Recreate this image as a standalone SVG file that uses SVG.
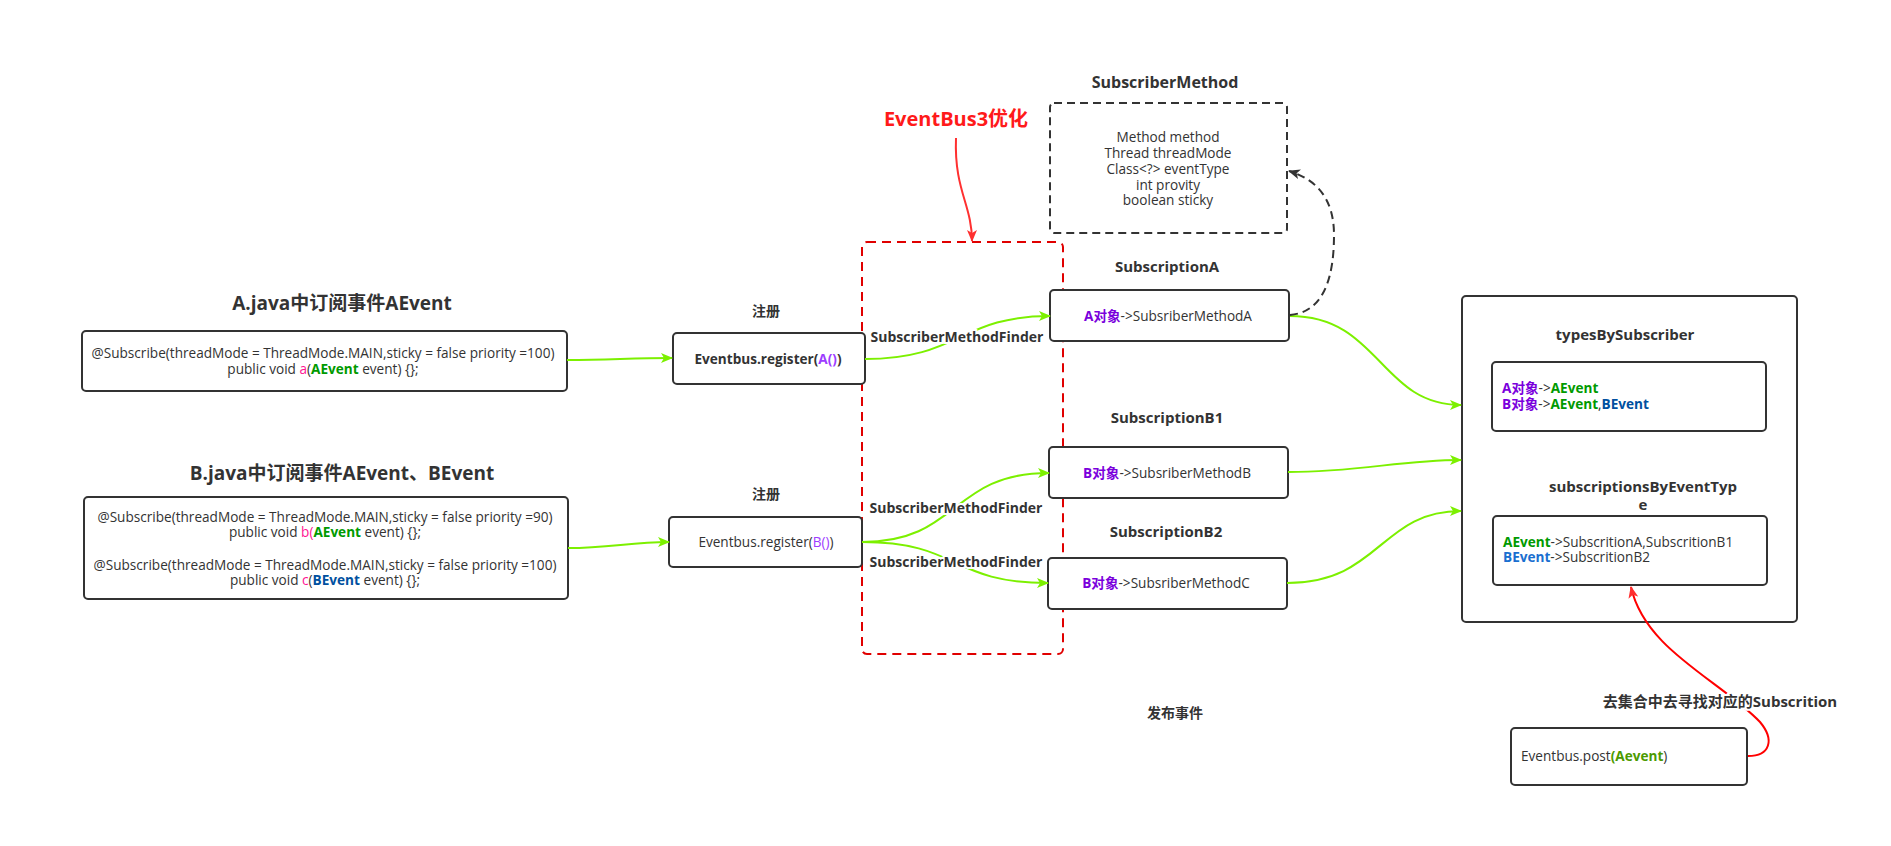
<svg xmlns="http://www.w3.org/2000/svg" width="1891" height="846" viewBox="0 0 1891 846">
<defs>
<style>
text{font-family:"Open Sans","Noto Sans CJK SC",sans-serif;fill:#333;}
.t{font-size:13.6px;}
.b{font-weight:bold;}
.title{font-size:19px;font-weight:bold;}
.h{font-size:15px;font-weight:bold;}
.lbl{font-size:14px;font-weight:bold;}
.halo{paint-order:stroke;stroke:#fff;stroke-width:4px;}
.box{fill:#fff;stroke:#333;stroke-width:2;}
.dbox{fill:#fff;stroke:#333;stroke-width:2;stroke-dasharray:8 5;}
.g{fill:none;stroke:#7cf000;stroke-width:2;}
.pur{fill:#7a00dc;}
.pl{fill:#9d3cff;}
.grn{fill:#009a00;}
.blu{fill:#0050a0;}
.blu2{fill:#1a6fd0;}
.pk{fill:#ff1493;}
.olv{fill:#4b9a00;}
</style>
<marker id="ag" viewBox="0 0 12 10" refX="11" refY="5" markerWidth="12" markerHeight="10" markerUnits="userSpaceOnUse" orient="auto"><path d="M0,0 L12,5 L0,10 L3,5 Z" fill="#7cf000"/></marker>
<marker id="ar" viewBox="0 0 12 10" refX="11" refY="5" markerWidth="12" markerHeight="10" markerUnits="userSpaceOnUse" orient="auto"><path d="M0,0 L12,5 L0,10 L3,5 Z" fill="#ff3030"/></marker>
<marker id="ak" viewBox="0 0 12 10" refX="11" refY="5" markerWidth="12" markerHeight="10" markerUnits="userSpaceOnUse" orient="auto"><path d="M0,0 L12,5 L0,10 L3,5 Z" fill="#333"/></marker>
</defs>
<rect width="1891" height="846" fill="#fff"/>

<g id="optimize">
<rect x="862" y="242" width="201" height="412" rx="5" fill="none" stroke="#e00000" stroke-width="2" stroke-dasharray="9 6"/>
<text x="956" y="126" text-anchor="middle" style="font-size:20px;font-weight:bold;fill:#ff1a1a">EventBus3优化</text>
</g>

<g id="nodeA">
<text class="title" x="342" y="310" text-anchor="middle">A.java中订阅事件AEvent</text>
<rect class="box" x="82" y="331" width="485" height="60" rx="4"/>
<text class="t" x="323" y="358" text-anchor="middle">@Subscribe(threadMode = ThreadMode.MAIN,sticky = false priority =100)</text>
<text class="t" x="323" y="374" text-anchor="middle">public void <tspan class="pk">a</tspan>(<tspan class="grn b">AEvent</tspan> event) {};</text>
</g>

<g id="nodeB">
<text class="title" x="342" y="480" text-anchor="middle">B.java中订阅事件AEvent、BEvent</text>
<rect class="box" x="84" y="497" width="484" height="102" rx="4"/>
<text class="t" x="325" y="522" text-anchor="middle">@Subscribe(threadMode = ThreadMode.MAIN,sticky = false priority =90)</text>
<text class="t" x="325" y="537" text-anchor="middle">public void <tspan class="pk">b(</tspan><tspan class="grn b">AEvent</tspan> event) {};</text>
<text class="t" x="325" y="570" text-anchor="middle">@Subscribe(threadMode = ThreadMode.MAIN,sticky = false priority =100)</text>
<text class="t" x="325" y="585" text-anchor="middle">public void <tspan class="pk">c</tspan>(<tspan class="blu b">BEvent</tspan> event) {};</text>
</g>

<g id="registerA">
<text class="lbl" x="766" y="316" text-anchor="middle">注册</text>
<rect class="box" x="673" y="333" width="192" height="51" rx="4"/>
<text class="t b" x="768" y="364" text-anchor="middle">Eventbus.register(<tspan class="pl">A()</tspan>)</text>
</g>

<g id="registerB">
<text class="lbl" x="766" y="499" text-anchor="middle">注册</text>
<rect class="box" x="669" y="517" width="193" height="50" rx="4"/>
<text class="t" x="766" y="547" text-anchor="middle">Eventbus.register(<tspan class="pl">B()</tspan>)</text>
</g>

<g id="subscriberMethod">
<text class="h" x="1165" y="88" text-anchor="middle" style="font-size:16px">SubscriberMethod</text>
<rect class="dbox" x="1050" y="103" width="237" height="130" rx="4"/>
<text class="t" x="1168" y="142" text-anchor="middle">Method method</text>
<text class="t" x="1168" y="158" text-anchor="middle">Thread threadMode</text>
<text class="t" x="1168" y="174" text-anchor="middle">Class&lt;?&gt; eventType</text>
<text class="t" x="1168" y="190" text-anchor="middle">int provity</text>
<text class="t" x="1168" y="205" text-anchor="middle">boolean sticky</text>
</g>

<g id="subscriptionA">
<text class="h" x="1167" y="272" text-anchor="middle">SubscriptionA</text>
<rect class="box" x="1050" y="290" width="239" height="51" rx="4"/>
<text class="t" x="1168" y="321" text-anchor="middle"><tspan class="pur b">A对象</tspan>-&gt;SubsriberMethodA</text>
</g>

<g id="subscriptionB1">
<text class="h" x="1167" y="423" text-anchor="middle">SubscriptionB1</text>
<rect class="box" x="1049" y="447" width="239" height="51" rx="4"/>
<text class="t" x="1167" y="478" text-anchor="middle"><tspan class="pur b">B对象</tspan>-&gt;SubsriberMethodB</text>
</g>

<g id="subscriptionB2">
<text class="h" x="1166" y="537" text-anchor="middle">SubscriptionB2</text>
<rect class="box" x="1048" y="558" width="239" height="51" rx="4"/>
<text class="t" x="1166" y="588" text-anchor="middle"><tspan class="pur b">B对象</tspan>-&gt;SubsriberMethodC</text>
</g>

<g id="collections">
<rect class="box" x="1462" y="296" width="335" height="326" rx="4"/>
<text class="h" x="1625" y="340" text-anchor="middle">typesBySubscriber</text>
<rect class="box" x="1492" y="362" width="274" height="69" rx="4"/>
<text class="t" x="1502" y="393"><tspan class="pur b">A对象</tspan>-&gt;<tspan class="grn b">AEvent</tspan></text>
<text class="t" x="1502" y="409"><tspan class="pur b">B对象</tspan>-&gt;<tspan class="grn b">AEvent</tspan>,<tspan class="blu b">BEvent</tspan></text>
<text class="h" x="1643" y="492" text-anchor="middle">subscriptionsByEventTyp</text>
<text class="h" x="1643" y="510" text-anchor="middle">e</text>
<rect class="box" x="1493" y="516" width="274" height="69" rx="4"/>
<text class="t" x="1503" y="547"><tspan class="grn b">AEvent</tspan>-&gt;SubscritionA,SubscritionB1</text>
<text class="t" x="1503" y="562"><tspan class="blu2 b">BEvent</tspan>-&gt;SubscritionB2</text>
</g>

<g id="post">
<text class="lbl" x="1175" y="718" text-anchor="middle">发布事件</text>
<rect class="box" x="1511" y="728" width="236" height="57" rx="4"/>
<text class="t" x="1521" y="761">Eventbus.post<tspan class="olv b">(Aevent</tspan>)</text>
</g>

<g id="connectors">
<path class="g" d="M567,360 C610,360 630,358 672,358" marker-end="url(#ag)"/>
<path class="g" d="M568,548 C610,548 630,542 669,542" marker-end="url(#ag)"/>
<path class="g" d="M865,359 C960,359 960,316 1050,316" marker-end="url(#ag)"/>
<path class="g" d="M862,542 C960,542 950,473 1049,473" marker-end="url(#ag)"/>
<path class="g" d="M862,542 C960,542 950,583 1048,583" marker-end="url(#ag)"/>
<path class="g" d="M1290,316 C1380,316 1380,405 1461,405" marker-end="url(#ag)"/>
<path class="g" d="M1288,472 C1360,472 1400,460 1461,460" marker-end="url(#ag)"/>
<path class="g" d="M1287,583 C1380,583 1380,511 1461,511" marker-end="url(#ag)"/>
<path fill="none" stroke="#333" stroke-width="2" stroke-dasharray="8 5" d="M1290,315 C1325,312 1334,275 1334,235 C1334,200 1318,180 1289,171" marker-end="url(#ak)"/>
<path fill="none" stroke="#ff3030" stroke-width="2" d="M956,138 C954,190 972,205 972,241" marker-end="url(#ar)"/>
<path fill="none" stroke="#ff0000" stroke-width="2" d="M1748,756 C1770,756 1775,740 1760,722 C1720,680 1645,650 1631,587" marker-end="url(#ar)"/>
<text class="lbl halo" x="957" y="342" text-anchor="middle">SubscriberMethodFinder</text>
<text class="lbl halo" x="956" y="513" text-anchor="middle">SubscriberMethodFinder</text>
<text class="lbl halo" x="956" y="567" text-anchor="middle">SubscriberMethodFinder</text>
<text class="lbl halo" x="1720" y="707" text-anchor="middle" style="font-size:15px">去集合中去寻找对应的Subscrition</text>
</g>
</svg>
